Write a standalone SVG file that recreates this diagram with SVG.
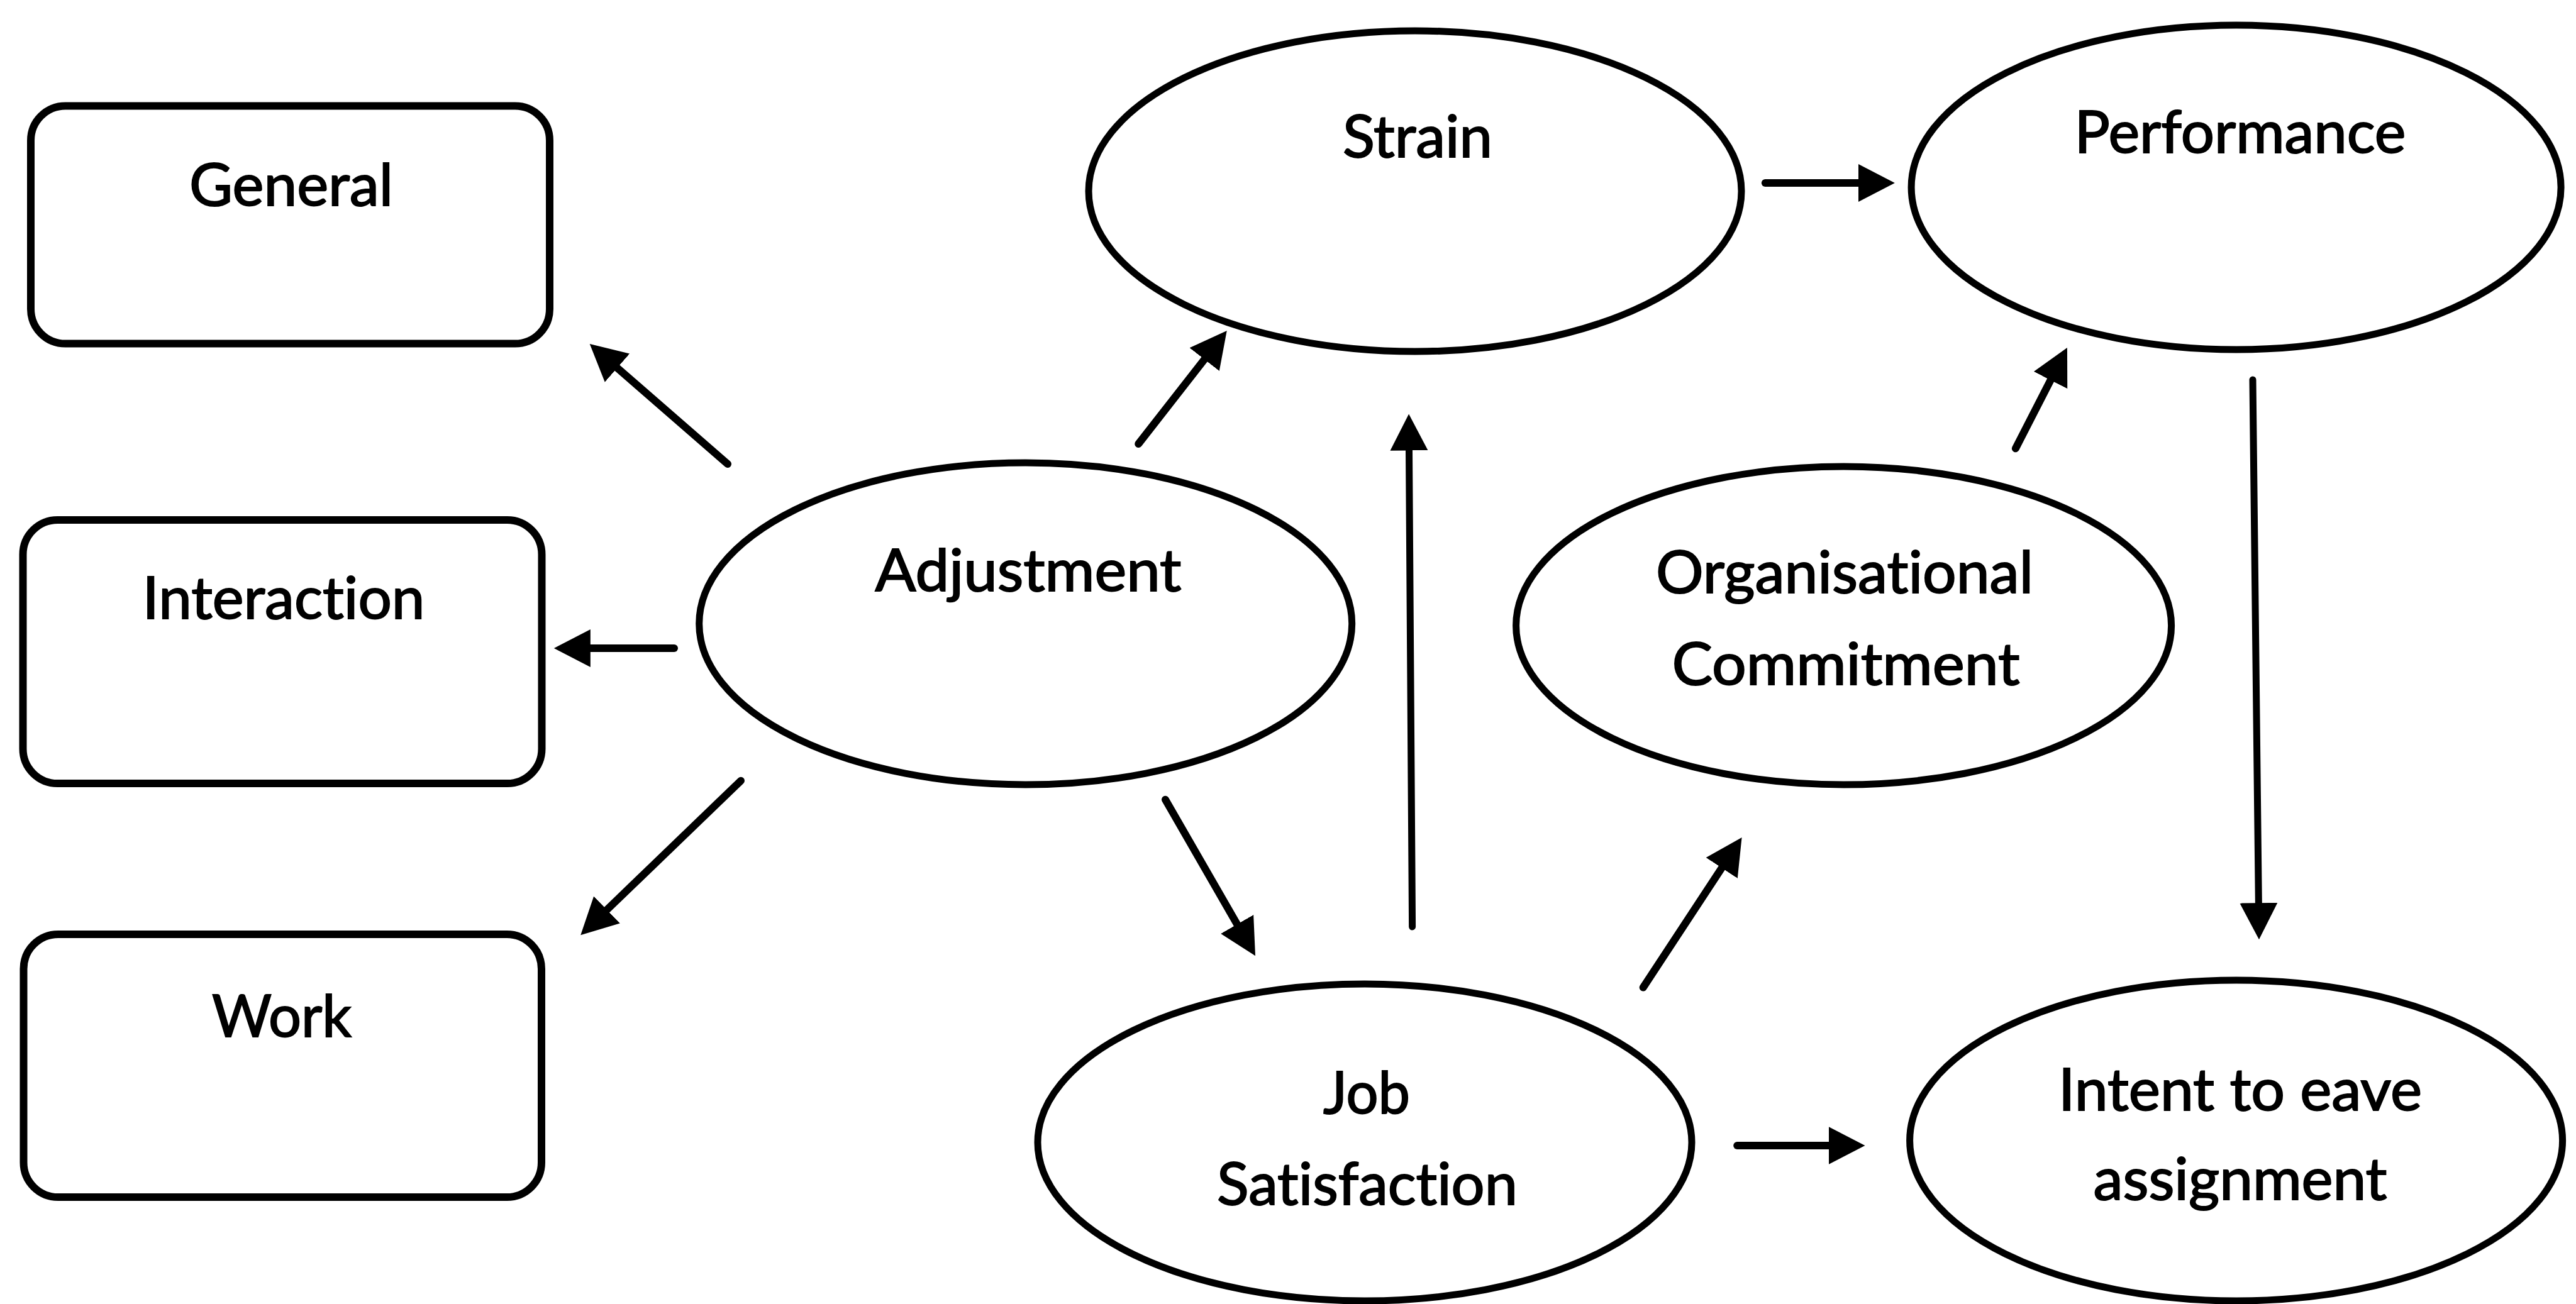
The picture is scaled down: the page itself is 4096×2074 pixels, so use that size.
<svg xmlns="http://www.w3.org/2000/svg" width="4096" height="2074" viewBox="0 0 4096 2074">
  <style>
    .box { fill: #ffffff; stroke: #000000; stroke-width: 12; }
    .oval { fill: #ffffff; stroke: #000000; stroke-width: 11; }
    .label { font-family: Lato, "Liberation Sans", sans-serif; font-size: 94px; fill: #000000; stroke: #000000; stroke-width: 2; text-anchor: middle; font-variant-ligatures: none; font-feature-settings: "liga" 0; }
    .link { fill: none; stroke: #000000; stroke-width: 12; stroke-linecap: round; marker-end: url(#head); }
  </style>
  <defs>
    <marker id="head" markerUnits="userSpaceOnUse" markerWidth="64" markerHeight="64" viewBox="0 -32 64 64" refX="14" refY="0" orient="auto">
      <path d="M0,-30 L58,0 L0,30 z" fill="#000000"/>
    </marker>
  </defs>
  <rect x="0" y="0" width="4096" height="2074" fill="#ffffff"/>

  <!-- adjustment facets -->
  <g id="general">
    <rect class="box" x="49" y="168.5" width="825" height="378" rx="55" ry="55"/>
    <text class="label" x="463" y="327" textLength="324" lengthAdjust="spacingAndGlyphs">General</text>
  </g>
  <g id="interaction">
    <rect class="box" x="36.5" y="827" width="825" height="419" rx="55" ry="55"/>
    <text class="label" x="451" y="984" textLength="449" lengthAdjust="spacingAndGlyphs">Interaction</text>
  </g>
  <g id="work">
    <rect class="box" x="37.5" y="1486" width="823.5" height="418" rx="55" ry="55"/>
    <text class="label" x="448" y="1649" textLength="222" lengthAdjust="spacingAndGlyphs">Work</text>
  </g>

  <!-- outcome variables -->
  <g id="adjustment">
    <ellipse class="oval" cx="1630.7" cy="992" rx="519" ry="256"/>
    <text class="label" x="1635" y="940" textLength="487" lengthAdjust="spacingAndGlyphs">Adjustment</text>
  </g>
  <g id="strain">
    <ellipse class="oval" cx="2250" cy="304" rx="519" ry="255"/>
    <text class="label" x="2254" y="250" textLength="238" lengthAdjust="spacingAndGlyphs">Strain</text>
  </g>
  <g id="performance">
    <ellipse class="oval" cx="3555.6" cy="298" rx="516.5" ry="258"/>
    <text class="label" x="3562" y="243" textLength="527" lengthAdjust="spacingAndGlyphs">Performance</text>
  </g>
  <g id="organisational-commitment">
    <ellipse class="oval" cx="2931.6" cy="995" rx="521" ry="253"/>
    <text class="label" x="2933" y="943" textLength="600" lengthAdjust="spacingAndGlyphs">Organisational</text>
    <text class="label" x="2935" y="1089" textLength="553" lengthAdjust="spacingAndGlyphs">Commitment</text>
  </g>
  <g id="job-satisfaction">
    <ellipse class="oval" cx="2170" cy="1817" rx="520" ry="252"/>
    <text class="label" x="2173" y="1771" textLength="138" lengthAdjust="spacingAndGlyphs">Job</text>
    <text class="label" x="2174" y="1916" textLength="478" lengthAdjust="spacingAndGlyphs">Satisfaction</text>
  </g>
  <g id="intent-to-leave">
    <ellipse class="oval" cx="3555.6" cy="1814" rx="519" ry="255"/>
    <text class="label" x="3562" y="1766" textLength="578" lengthAdjust="spacingAndGlyphs">Intent to eave</text>
    <text class="label" x="3562" y="1908" textLength="467" lengthAdjust="spacingAndGlyphs">assignment</text>
  </g>

  <!-- connectors -->
  <g id="connectors">
    <line class="link" x1="1157" y1="738" x2="970.9" y2="576"/>
    <line class="link" x1="1072" y1="1031" x2="924.8" y2="1031"/>
    <line class="link" x1="1178" y1="1241.7" x2="954.9" y2="1456.7"/>
    <line class="link" x1="1810.2" y1="706" x2="1923.7" y2="560.6"/>
    <line class="link" x1="1853" y1="1271.8" x2="1974.1" y2="1482.2"/>
    <line class="link" x1="2245.6" y1="1474" x2="2240.4" y2="702.5" style="stroke-width:11"/>
    <line class="link" x1="2806.8" y1="291" x2="2968.9" y2="291"/>
    <line class="link" x1="3204.9" y1="713.3" x2="3266.9" y2="592.2"/>
    <line class="link" x1="2612.7" y1="1570.6" x2="2745.4" y2="1368.8"/>
    <line class="link" x1="3582" y1="604" x2="3591.5" y2="1450.2" style="stroke-width:11"/>
    <line class="link" x1="2762.2" y1="1822" x2="2921.5" y2="1822"/>
  </g>
</svg>
